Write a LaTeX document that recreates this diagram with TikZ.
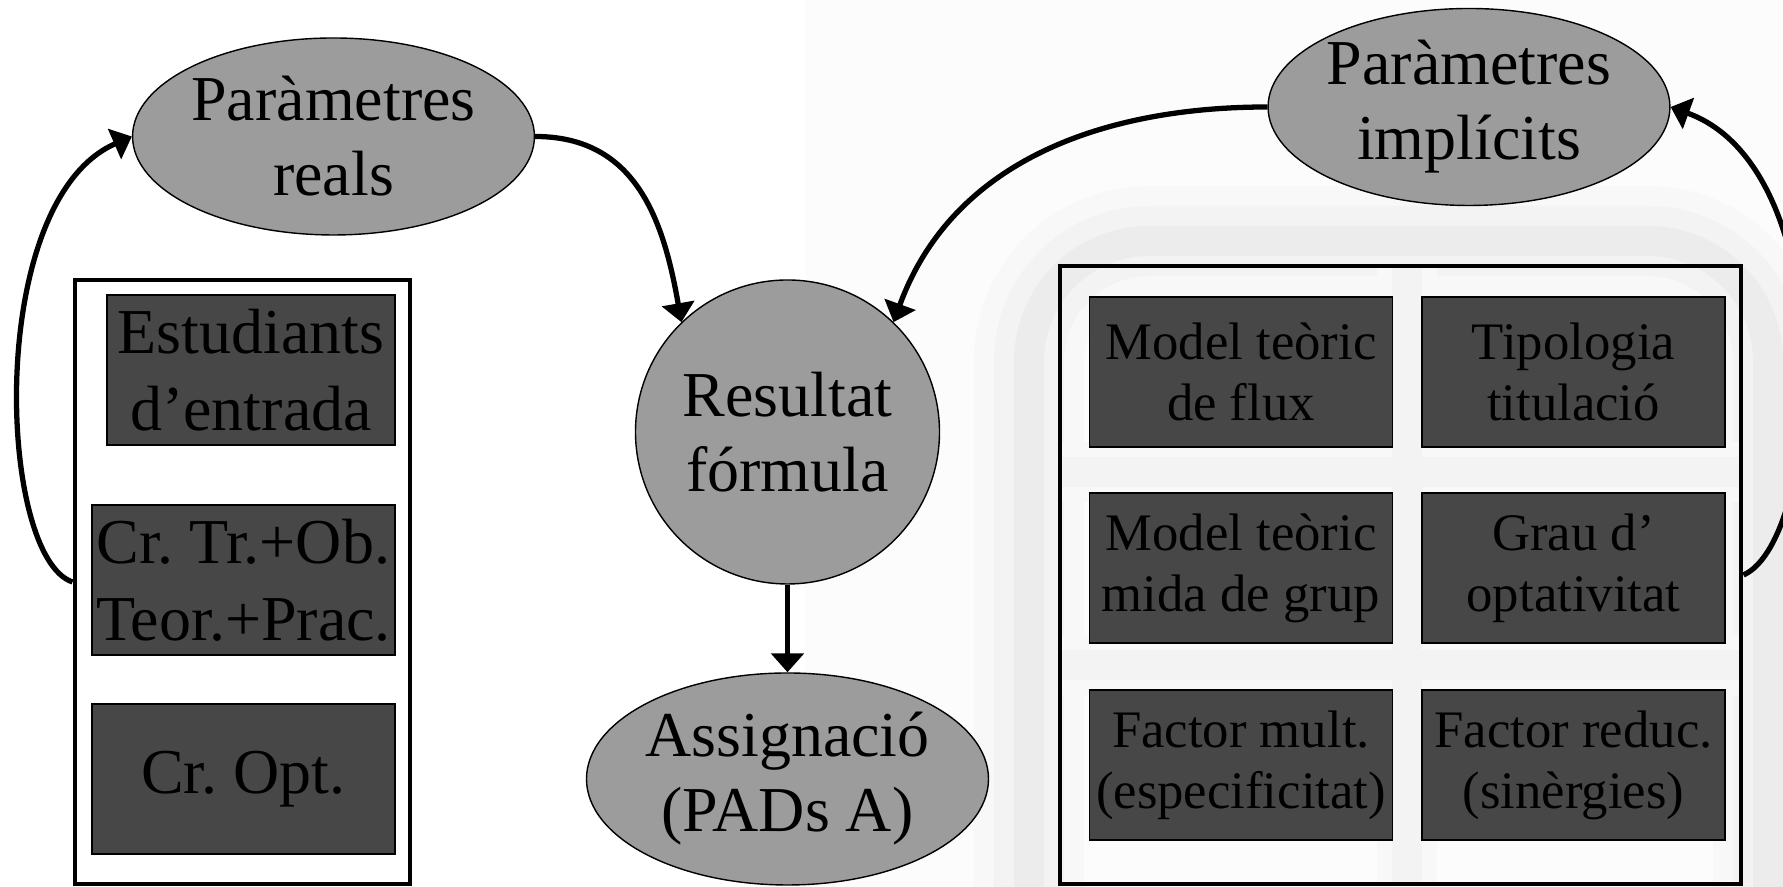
\documentclass[tikz,border=0pt]{standalone}
\usepackage{fontspec}
\setmainfont{Liberation Serif}
\usetikzlibrary{shapes.geometric,arrows.meta}
\definecolor{ovalgray}{RGB}{156,156,156}
\definecolor{boxgray}{RGB}{71,71,71}
\definecolor{wmbg}{RGB}{252,252,252}
\definecolor{wmhalo}{RGB}{248,248,248}
\definecolor{wmlight}{RGB}{243,243,243}
\definecolor{wmgray}{RGB}{236,236,236}
\frenchspacing
\begin{document}
\begin{tikzpicture}[
  oval/.style={ellipse,draw,line width=0.4pt,fill=ovalgray,inner sep=0pt,
    minimum width=3.94cm,minimum height=1.97cm,align=center,
    font=\fontsize{18.2}{21.3}\selectfont},
  bigbox/.style={rectangle,draw,line width=1.4pt,inner sep=0pt},
  darkbox/.style={rectangle,draw,line width=0.5pt,fill=boxgray,inner sep=0pt,
    minimum height=1.5cm,align=center},
  leftitem/.style={darkbox,font=\fontsize{18.2}{21.8}\selectfont},
  rightitem/.style={darkbox,minimum width=3.03cm,font=\fontsize{15}{17.4}\selectfont},
  conn/.style={line width=1.5pt,-{Triangle[length=5.4pt,width=9.2pt]}}
]
\useasboundingbox (0,0) rectangle (17.83,8.87);
\fill[white] (0,0) rectangle (17.83,8.87);
% faint watermark on the right
\fill[wmbg] (8.05,0) rectangle (17.83,8.87);
\begin{scope}
\clip (8.05,0) rectangle (17.83,8.87);
\draw[wmhalo,line width=1.1cm,rounded corners=1.2cm] (10.29,-1) -- (10.29,6.46) -- (17.68,6.46) -- (17.68,-1);
\draw[wmlight,line width=0.7cm,rounded corners=1.2cm] (10.29,-1) -- (10.29,6.46) -- (17.68,6.46) -- (17.68,-1);
\draw[wmgray,line width=0.3cm,rounded corners=1.2cm] (10.29,-1) -- (10.29,6.46) -- (17.68,6.46) -- (17.68,-1);
\end{scope}
\begin{scope}
\clip (10.6,0.03) rectangle (17.41,6.21);
\draw[wmhalo,line width=0.6cm] (14.07,6.3) -- (14.07,0) (10.5,4.15) -- (17.5,4.15) (10.5,2.22) -- (17.5,2.22);
\draw[wmlight,line width=0.3cm] (14.07,6.3) -- (14.07,0) (10.5,4.15) -- (17.5,4.15) (10.5,2.22) -- (17.5,2.22);
\end{scope}

% frames
\node[bigbox,fill=white,minimum width=3.35cm,minimum height=6.04cm] (leftbox) at (2.425,3.05) {};
\node[bigbox,minimum width=6.81cm,minimum height=6.18cm] (rightbox) at (14.005,3.12) {};

% real data
\node[leftitem,minimum width=2.88cm] (entrada) at (2.51,5.17) {Estudiants\\d’entrada};
\node[leftitem,minimum width=3.03cm] (troncals) at (2.435,3.07) {Cr. Tr.+Ob.\\Teor.+Prac.};
\node[leftitem,minimum width=3.03cm] (optatius) at (2.435,1.08) {Cr. Opt.};

% implicit data
\node[rightitem] (flux) at (12.41,5.15) {Model teòric\\de flux};
\node[rightitem] (tipologia) at (15.735,5.15) {Tipologia\\titulació};
\node[rightitem] (grup) at (12.41,3.19) {Model teòric\\mida de grup};
\node[rightitem] (optativitat) at (15.735,3.19) {Grau d’\\optativitat};
\node[rightitem] (especific) at (12.41,1.22) {Factor mult.\\(especificitat)};
\node[rightitem] (sinergies) at (15.735,1.22) {Factor reduc.\\(sinèrgies)};

% parameters and result
\node[oval] (reals) at (3.335,7.505) {Paràmetres\\reals};
\node[oval] (implicits) at (14.69,7.80) {Paràmetres\\implícits};
\node[oval,circle,minimum size=3.04cm] (formula) at (7.875,4.55) {Resultat\\fórmula};
\node[oval,minimum width=3.95cm,minimum height=2.12cm] (assignacio) at (7.875,1.08) {Assignació\\(PADs A)};

% arrows
\draw[conn] (reals.east) to[out=0,in=100,looseness=1.1] (formula.134);
\draw[conn] (implicits.west) to[out=180,in=70] (formula.46);
\draw[conn] (formula.south) -- (assignacio.north);
\draw[conn] (leftbox.west) .. controls +(-0.75,0.25) and +(-1.47,-0.64) .. (reals.west);
\draw[conn] (rightbox.east) .. controls +(0.79,0.35) and +(1.74,-0.63) .. (implicits.east);
\end{tikzpicture}
\end{document}
